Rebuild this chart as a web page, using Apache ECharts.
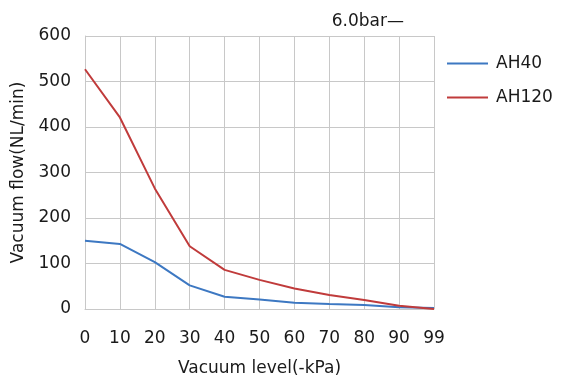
<!DOCTYPE html>
<html><head><meta charset="utf-8">
<script src="https://cdn.jsdelivr.net/npm/echarts@6/dist/echarts.min.js"></script>
<style>html,body{margin:0;padding:0;background:#fff}#c{width:561px;height:377px}</style>
</head><body><div id="c"></div>
<script>
const categories = ['0','10','20','30','40','50','60','70','80','90','99'];
const ah40 = [150,143,103,52,27,21,14,11,9,4,2];
const ah120 = [527,421,265,138,86,64,45,31,20,7,0];
const yTicks = [0,100,200,300,400,500,600];
const font = '"DejaVu Sans", sans-serif';
const fs = 17;
const chart = echarts.init(document.getElementById('c'));
chart.setOption({
  animation:false,
  grid:{left:85,right:127,top:36,bottom:68,outerBoundsMode:'none',containLabel:false},
  title:{text:'6.0bar—',right:157,top:13,padding:0,textStyle:{fontFamily:font,fontSize:fs,fontWeight:'normal',color:'#1a1a1a'}},
  legend:{orient:'vertical',left:447,top:55,padding:0,itemWidth:41,itemHeight:2,itemGap:17,icon:'rect',
    textStyle:{fontFamily:font,fontSize:fs,color:'#1a1a1a',padding:[0,0,0,3]},
    data:['AH40','AH120']},
  xAxis:{type:'category',data:categories,boundaryGap:false,
    name:'Vacuum level(-kPa)',nameLocation:'middle',nameGap:51,
    nameTextStyle:{fontFamily:font,fontSize:fs,color:'#1a1a1a'},
    axisLine:{lineStyle:{color:'#c8c8c8',width:1}},axisTick:{show:false},
    axisLabel:{fontFamily:font,fontSize:fs,color:'#1a1a1a',margin:21,interval:0},
    splitLine:{show:true,lineStyle:{color:'#c8c8c8',width:1}}},
  yAxis:{type:'value',min:yTicks[0],max:yTicks[yTicks.length-1],interval:100,
    name:'Vacuum flow(NL/min)',nameLocation:'middle',nameGap:58,
    nameTextStyle:{fontFamily:font,fontSize:fs,color:'#1a1a1a'},
    axisLine:{show:true,lineStyle:{color:'#c8c8c8'}},axisTick:{show:false},
    axisLabel:{fontFamily:font,fontSize:fs,color:'#1a1a1a',margin:14},
    splitLine:{lineStyle:{color:'#c8c8c8',width:1}}},
  series:[
    {name:'AH40',type:'line',data:ah40,symbol:'none',lineStyle:{color:'#3d78c2',width:2},itemStyle:{color:'#3d78c2'}},
    {name:'AH120',type:'line',data:ah120,symbol:'none',lineStyle:{color:'#c03b3b',width:2},itemStyle:{color:'#c03b3b'}}
  ]
});
</script></body></html>
